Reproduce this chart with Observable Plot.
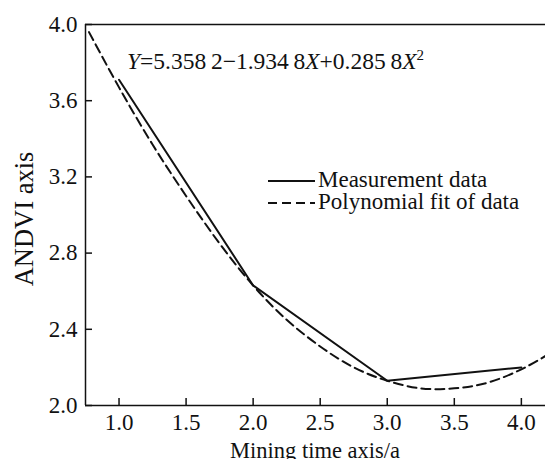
<!DOCTYPE html>
<html><head><meta charset="utf-8">
<script src="https://cdn.jsdelivr.net/npm/d3@7"></script>
<script src="https://cdn.jsdelivr.net/npm/@observablehq/plot@0.6"></script>
<style>body{margin:0;background:#fff}#chart{position:relative}</style>
</head><body><div id="chart"></div>
<script>
const measuredX = [1.0, 2.0, 3.0, 4.0];
const measuredY = [3.71, 2.63, 2.13, 2.20];
const fitX = [0.776, 1.0, 1.25, 1.5, 1.75, 2.0, 2.25, 2.5, 2.75, 3.0, 3.25, 3.5, 3.75, 4.0, 4.18];
const fitY = [3.96, 3.67, 3.37, 3.10, 2.85, 2.63, 2.45, 2.31, 2.20, 2.13, 2.09, 2.09, 2.12, 2.19, 2.26];
const xTicks = [1.0, 1.5, 2.0, 2.5, 3.0, 3.5, 4.0];
const yTicks = [2.0, 2.4, 2.8, 3.2, 3.6, 4.0];
const xDomain = [0.75, 4.18];
const yDomain = [2.0, 4.0];
const seriesNames = ["Measurement data", "Polynomial fit of data"];
const yLabel = "ANDVI axis";
const xLabel = "Mining time axis/a";

const measured = measuredX.map((x, i) => ({x, y: measuredY[i]}));
const fit = fitX.map((x, i) => ({x, y: fitY[i]}));
const FONT = "'Liberation Serif', 'Times New Roman', serif";

const plot = Plot.plot({
  width: 545, height: 459,
  marginLeft: 85, marginRight: 0, marginTop: 24, marginBottom: 54,
  style: {fontFamily: FONT, fontSize: "23px", color: "#111", background: "#fff"},
  x: {domain: xDomain},
  y: {domain: yDomain},
  marks: [
    Plot.axisX(xTicks, {tickSize: -7, tickPadding: 15, fontSize: 23, label: null, tickFormat: d3.format(".1f"), strokeWidth: 1.5}),
    Plot.axisY(yTicks, {tickSize: -7, tickPadding: 15, fontSize: 23, label: null, tickFormat: d3.format(".1f"), strokeWidth: 1.5}),
    Plot.ruleY([yDomain[0]], {strokeWidth: 1.5}),
    Plot.ruleY([yDomain[1]], {strokeWidth: 1.5}),
    Plot.ruleX([xDomain[0]], {strokeWidth: 1.5}),
    Plot.line(fit, {x: "x", y: "y", curve: "natural", stroke: "#111", strokeWidth: 2, strokeDasharray: "9,5", clip: true}),
    Plot.line(measured, {x: "x", y: "y", stroke: "#111", strokeWidth: 2, clip: true})
  ]
});
document.getElementById("chart").appendChild(plot);

const svg = d3.select(plot);
// y axis title
svg.append("text")
  .attr("transform", "translate(33,219) rotate(-90)")
  .attr("text-anchor", "middle").attr("font-size", 26.5).attr("fill", "#111")
  .attr("font-family", FONT).text(yLabel);
// x axis title
svg.append("text")
  .attr("x", 315).attr("y", 458)
  .attr("text-anchor", "middle").attr("font-size", 22.5).attr("fill", "#111")
  .attr("font-family", FONT).text(xLabel);
// equation
const eq = svg.append("text").attr("x", 127).attr("y", 69).attr("text-anchor", "start")
  .attr("font-size", 23.5).attr("fill", "#111").attr("font-family", FONT);
eq.append("tspan").attr("font-style", "italic").text("Y");
eq.append("tspan").text("=5.358\u20092\u22121.934\u20098");
eq.append("tspan").attr("font-style", "italic").text("X");
eq.append("tspan").text("+0.285\u20098");
eq.append("tspan").attr("font-style", "italic").text("X");
eq.append("tspan").attr("font-size", 15).attr("dy", -9).text("2");
// legend
const leg = svg.append("g").attr("font-family", FONT).attr("font-size", 23).attr("fill", "#111").attr("text-anchor", "start");
[[181, null], [203, "9,5"]].forEach(([y, dash], i) => {
  const l = leg.append("line").attr("x1", 268).attr("x2", 315).attr("y1", y).attr("y2", y)
    .attr("stroke", "#111").attr("stroke-width", 2);
  if (dash) l.attr("stroke-dasharray", dash);
  leg.append("text").attr("x", 318).attr("y", y + 6).attr("text-anchor", "start").text(seriesNames[i]);
});
</script>
</body></html>
